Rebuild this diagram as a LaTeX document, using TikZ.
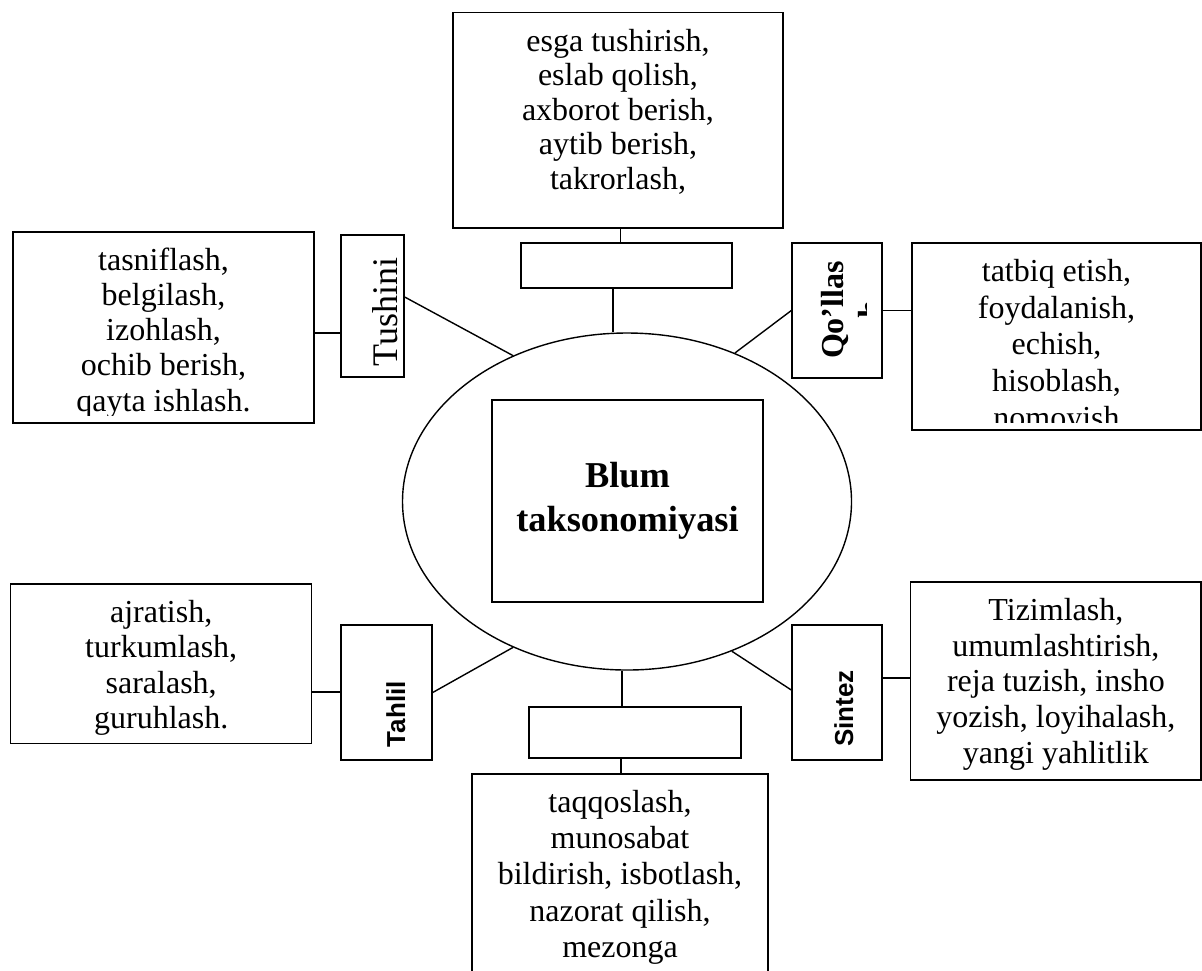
\documentclass[tikz,border=0pt]{standalone}
\usepackage{fontspec}
\setmainfont{Liberation Serif}
\newfontfamily\labelsans{Liberation Sans}
\usetikzlibrary{fit,shapes.geometric}

% #1 name, #2 top left, #3 bottom right, #4 line skip, #5 lines
\newcommand{\listbox}[5]{
  \node[list box,fit={#2 #3}] (#1) {};
  \begin{scope}
    \clip (#1.north west) rectangle ([yshift=4pt]#1.south east);
    \node[list text,anchor=base] (#1-text) at ([yshift=-19.5pt]#1.north)
      {\fontsize{16}{#4}\selectfont\parbox[t]{148pt}{\centering #5}};
  \end{scope}
}

\begin{document}
\begin{tikzpicture}[x=0.5pt,y=-0.5pt,
    list box/.style={draw,line width=0.7pt,inner sep=0pt},
    list text/.style={inner sep=0pt},
    level box/.style={draw,line width=0.7pt,inner sep=0pt},
    level label/.style={inner sep=0pt,rotate=90,anchor=base},
    link/.style={line width=0.7pt},
  ]
  \useasboundingbox (0,0) rectangle (1202,970);

  % centre
  \node[ellipse,draw,line width=0.7pt,minimum width=224.5pt,minimum height=168.5pt,inner sep=0pt] (taxonomy) at (627,501.5) {};
  \node[draw,line width=0.7pt,minimum width=135.5pt,minimum height=101pt,inner sep=0pt,align=center,
    font=\fontsize{18.2}{21.9}\selectfont\bfseries] (blum) at (627.5,501) {Blum\\taksonomiyasi};

  % top
  \listbox{recall}{(453,12.7)}{(783,228)}{17.25pt}{esga tushirish,\\eslab qolish,\\axborot berish,\\aytib berish,\\takrorlash,}
  \node[level box,fit={(521,243) (732,288)}] (recall-level) {};
  \draw[link] (recall.south -| 620.7,0) -- (recall-level.north -| 620.7,0);
  \draw[link] (recall-level.south -| 613,0) -- (taxonomy.north -| 613,0);

  % left top
  \node[level box,fit={(341,235) (404,377)}] (understand) {};
  \node[level label,font=\fontsize{18}{20}\selectfont] (understand-label) at (397,312) {Tushini};
  \listbox{understand-list}{(13,232)}{(314,423)}{17.6pt}{tasniflash,\\belgilash,\\izohlash,\\ochib berish,\\qayta ishlash.}
  \draw[link] (understand.west |- 0,333) -- (understand-list.east |- 0,333);
  \draw[link] (understand.east |- 0,297) -- (taxonomy.128);

  % right top
  \node[level box,fit={(792,243) (882,378)}] (apply) {};
  \begin{scope}
    \clip (apply.north west) rectangle ([xshift=-8pt]apply.south east);
    \node[level label,font=\fontsize{16}{18.5}\selectfont\bfseries] (apply-label) at (843,310)
      {\parbox[t]{60pt}{\centering Qo’llas\\h}};
  \end{scope}
  \listbox{apply-list}{(912,243)}{(1201,430)}{18.35pt}{tatbiq etish,\\foydalanish,\\echish,\\hisoblash,\\nomoyish}
  \draw[link] (apply.east) -- (apply-list.west |- apply.east);
  \draw[link] (apply.west) -- (taxonomy.54);

  % left bottom
  \node[level box,fit={(341,625) (432,760)}] (analysis) {};
  \node[level label,font=\labelsans\fontsize{13}{15}\selectfont\bfseries] (analysis-label) at (405,714) {Tahlil};
  \listbox{analysis-list}{(10.7,584)}{(311.7,743.3)}{17.75pt}{ajratish,\\turkumlash,\\saralash,\\guruhlash.}
  \draw[link] (analysis.west |- 0,692) -- (analysis-list.east |- 0,692);
  \draw[link] (analysis.east) -- (taxonomy.232);

  % right bottom
  \node[level box,fit={(792,625) (882,760)}] (synthesis) {};
  \node[level label,font=\labelsans\fontsize{13}{15}\selectfont\bfseries] (synthesis-label) at (853,708.5) {Sintez};
  \listbox{synthesis-list}{(910.7,582)}{(1201,780)}{17.85pt}{Tizimlash,\\umumlashtirish,\\reja tuzish, insho\\yozish, loyihalash,\\yangi yahlitlik}
  \draw[link] (synthesis.east |- 0,678) -- (synthesis-list.west |- 0,678);
  \draw[link] (synthesis.west |- 0,690) -- (taxonomy.305);

  % bottom
  \node[level box,fit={(529,707) (741,758)}] (evaluation) {};
  \listbox{evaluation-list}{(472,774)}{(768,1000)}{18.15pt}{taqqoslash,\\munosabat\\bildirish, isbotlash,\\nazorat qilish,\\mezonga}
  \draw[link] (taxonomy.south -| 622,0) -- (evaluation.north -| 622,0);
  \draw[link] (evaluation.south -| 621,0) -- (evaluation-list.north -| 621,0);
\end{tikzpicture}
\end{document}
